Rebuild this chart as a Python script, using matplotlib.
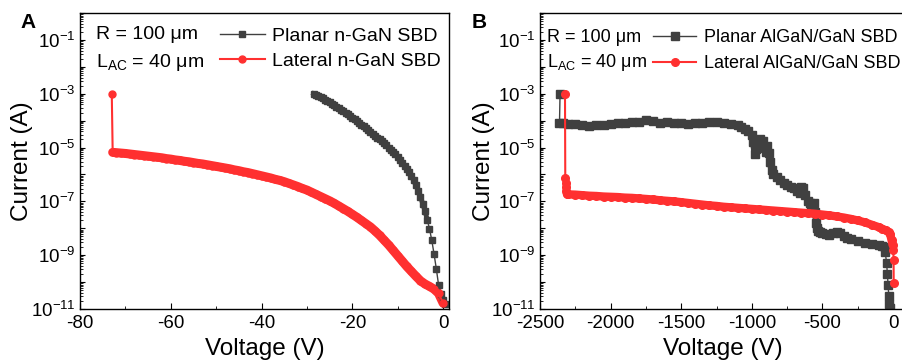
import matplotlib
matplotlib.use('Agg')
import matplotlib.pyplot as plt
import matplotlib.ticker as ticker
import numpy as np

plt.rcParams['font.family'] = ['Liberation Sans', 'DejaVu Sans']
plt.rcParams['mathtext.fontset'] = 'custom'
plt.rcParams['mathtext.rm'] = 'Liberation Sans'
plt.rcParams['mathtext.it'] = 'Liberation Sans:italic'
plt.rcParams['axes.unicode_minus'] = False

GRAY = '#404040'
RED = '#ff3030'

# ---- panel A data (voltage in V, log10 of current in A) ----
planar_a_v = [-28.5, -28.0, -27.5, -27.0, -26.5, -26.0, -25.5, -25.0, -24.5, -24.0,
              -23.5, -23.0, -22.5, -22.0, -21.5, -21.0, -20.5, -20.0, -19.5, -19.0,
              -18.5, -18.0, -17.5, -17.0, -16.5, -16.0, -15.5, -15.0, -14.5, -14.0,
              -13.5, -13.0, -12.5, -12.0, -11.5, -11.0, -10.5, -10.0, -9.5, -9.0,
              -8.5, -8.0, -7.5, -7.0, -6.5, -6.0, -5.5, -5.0, -4.5, -4.0,
              -3.5, -3.0, -2.5, -2.0, -1.5, -1.0, -0.5, 0.0, 0.5]
planar_a_log = [-3.00, -3.04, -3.08, -3.12, -3.17, -3.22, -3.27, -3.32, -3.37, -3.43,
                -3.48, -3.54, -3.60, -3.65, -3.71, -3.77, -3.83, -3.89, -3.95, -4.02,
                -4.08, -4.15, -4.21, -4.28, -4.35, -4.42, -4.49, -4.56, -4.63, -4.70,
                -4.77, -4.84, -4.92, -5.00, -5.08, -5.16, -5.25, -5.34, -5.45, -5.56,
                -5.67, -5.79, -5.92, -6.06, -6.22, -6.40, -6.60, -6.82, -7.08, -7.35,
                -7.68, -8.02, -8.44, -8.95, -9.50, -10.10, -10.45, -10.65, -10.80]

lateral_a_v = [-73, -72.8, -72, -71, -70, -69, -68, -67, -66, -65,
               -64, -63, -62, -61, -60, -59, -58, -57, -56, -55,
               -54, -53, -52, -51, -50, -49, -48, -47, -46, -45,
               -44, -43, -42, -41, -40, -39, -38, -37, -36, -35,
               -34, -33, -32, -31, -30, -29, -28, -27, -26, -25,
               -24, -23, -22, -21, -20, -19, -18, -17, -16, -15,
               -14, -13, -12, -11, -10, -9, -8, -7, -6, -5,
               -4, -3, -2, -1, 0]
lateral_a_log = [-3.00, -5.18, -5.19, -5.205, -5.22, -5.24, -5.26, -5.28, -5.30, -5.32,
                 -5.34, -5.36, -5.38, -5.41, -5.43, -5.46, -5.48, -5.51, -5.53, -5.56,
                 -5.59, -5.61, -5.64, -5.67, -5.70, -5.73, -5.76, -5.79, -5.83, -5.86,
                 -5.90, -5.93, -5.97, -6.01, -6.05, -6.09, -6.13, -6.18, -6.22, -6.27,
                 -6.33, -6.39, -6.45, -6.52, -6.58, -6.66, -6.74, -6.82, -6.90, -6.98,
                 -7.07, -7.17, -7.27, -7.37, -7.48, -7.59, -7.71, -7.83, -7.95, -8.10,
                 -8.26, -8.44, -8.62, -8.82, -9.02, -9.22, -9.42, -9.60, -9.78, -9.95,
                 -10.07, -10.16, -10.26, -10.42, -10.78]

# ---- panel B data ----
planar_b_v = [-2358, -2362, -2340, -2300, -2250, -2200, -2150, -2100, -2050, -2000,
              -1950, -1900, -1850, -1800, -1750, -1700, -1650, -1600, -1550, -1500,
              -1450, -1400, -1350, -1300, -1250, -1200, -1150, -1100, -1075, -1050,
              -1025, -1000, -990, -980, -970, -960, -950, -940, -930, -920,
              -910, -900, -890, -880, -870, -860, -850, -825, -800, -775,
              -750, -725, -700, -680, -660, -650, -640, -620, -600, -590,
              -580, -570, -560, -550, -545, -540, -530, -520, -500, -475,
              -450, -425, -400, -375, -350, -325, -300, -250, -200, -150,
              -100, -75, -60, -55, -45, -40, -35, -30, -25, -22]
planar_b_log = [-3.0, -4.1, -4.1, -4.12, -4.14, -4.16, -4.2, -4.18, -4.15, -4.14,
                -4.1, -4.08, -4.06, -4.04, -3.99, -4.03, -4.07, -4.06, -4.09, -4.1,
                -4.13, -4.09, -4.08, -4.06, -4.05, -4.08, -4.12, -4.17, -4.22, -4.3,
                -4.38, -4.55, -4.8, -5.25, -5.05, -4.75, -4.85, -4.7, -4.9, -4.75,
                -5.0, -5.15, -4.95, -5.2, -5.55, -5.85, -6.0, -6.1, -6.2, -6.3,
                -6.38, -6.45, -6.52, -6.6, -6.7, -6.45, -6.5, -6.75, -7.0, -7.05,
                -7.15, -7.15, -7.05, -7.4, -7.8, -8.0, -8.1, -8.15, -8.18, -8.22,
                -8.24, -8.18, -8.12, -8.18, -8.3, -8.36, -8.4, -8.47, -8.53, -8.6,
                -8.64, -8.66, -8.7, -8.9, -9.3, -9.7, -10.1, -10.5, -10.8, -10.95]

lateral_b_v = [-2323, -2321, -2319, -2317, -2314, -2310, -2300, -2250, -2200, -2150,
               -2100, -2050, -2000, -1950, -1900, -1850, -1800, -1750, -1700, -1650,
               -1600, -1550, -1500, -1450, -1400, -1350, -1300, -1250, -1200, -1150,
               -1100, -1050, -1000, -950, -900, -850, -800, -750, -700, -650,
               -600, -550, -500, -450, -400, -350, -300, -250, -200, -150,
               -100, -75, -50, -30, -20, -10, -3, 2, 4, 5]
lateral_b_log = [-3.0, -6.15, -6.3, -6.45, -6.6, -6.72, -6.74, -6.75, -6.77, -6.79,
                 -6.8, -6.82, -6.83, -6.84, -6.86, -6.87, -6.89, -6.91, -6.93, -6.96,
                 -6.98, -7.0, -7.03, -7.06, -7.09, -7.12, -7.15, -7.17, -7.2, -7.22,
                 -7.24, -7.26, -7.28, -7.3, -7.32, -7.34, -7.36, -7.38, -7.4, -7.42,
                 -7.44, -7.46, -7.49, -7.52, -7.56, -7.6, -7.65, -7.71, -7.78, -7.87,
                 -7.96, -8.02, -8.08, -8.15, -8.22, -8.45, -8.62, -8.8, -9.17, -10.03]


def odd_decade(val, pos):
    e = int(round(np.log10(val)))
    if e % 2 == 0:
        return ''
    return r'$\mathregular{10^{%d}}$' % e


def style_axis(ax, xmin, xmax, xmajor, xminor):
    ax.set_yscale('log')
    ax.set_ylim(1e-11, 1e0)
    ax.set_xlim(xmin, xmax)
    ax.yaxis.set_major_locator(ticker.LogLocator(base=10, subs=(1.0,), numticks=20))
    ax.yaxis.set_minor_locator(ticker.LogLocator(base=10, subs=np.arange(2, 10), numticks=20))
    ax.yaxis.set_major_formatter(ticker.FuncFormatter(odd_decade))
    ax.yaxis.set_minor_formatter(ticker.NullFormatter())
    ax.xaxis.set_major_locator(ticker.MultipleLocator(xmajor))
    ax.xaxis.set_minor_locator(ticker.MultipleLocator(xminor))
    ax.tick_params(which='both', direction='in', top=False, right=False, labelsize=13.5)
    ax.tick_params(axis='x', which='major', length=4.5, pad=4.5)
    ax.tick_params(axis='x', which='minor', length=2.5)
    ax.tick_params(axis='y', which='major', length=3.5, pad=3)
    ax.tick_params(axis='y', which='minor', length=2)
    for s in ax.spines.values():
        s.set_linewidth(1.0)
    ax.set_xlabel('Voltage (V)', fontsize=17.5, labelpad=4)
    ax.set_ylabel('Current (A)', fontsize=17.5)


fig = plt.figure(figsize=(9.03, 3.63), dpi=100)
axA = fig.add_axes([80/903, 1-309/363, 369/903, 296/363])
axB = fig.add_axes([540/903, 1-309/363, 366/903, 296/363])

# panel A
pa_i = 10.0 ** np.array(planar_a_log)
la_i = 10.0 ** np.array(lateral_a_log)
axA.plot(lateral_a_v[1:], la_i[1:], '-', color=RED, lw=6.5, solid_capstyle='round')
axA.plot(planar_a_v[:-8], pa_i[:-8], '-', color=GRAY, lw=3.5)
axA.plot(planar_a_v, pa_i, '-s', color=GRAY, lw=1, ms=4.5, label='Planar n-GaN SBD')
axA.plot(lateral_a_v, la_i, '-o', color=RED, lw=1.5, ms=5, label='Lateral n-GaN SBD')
style_axis(axA, -80, 1.3, 20, 10)
axA.yaxis.set_label_coords(-0.128, 0.5)
axA.text(0.043, 0.9105, 'R = 100 μm', transform=axA.transAxes, fontsize=14, va='baseline')
axA.text(0.043, 0.8186, r'L$_{\mathregular{AC}}$ = 40 μm', transform=axA.transAxes,
         fontsize=14, va='baseline')
axA.legend(loc='upper left', bbox_to_anchor=(0.379, 0.952), frameon=False, fontsize=14,
           handlelength=2.3, handletextpad=0.4, labelspacing=0.38, borderpad=0,
           borderaxespad=0)

# panel B
pb_i = 10.0 ** np.array(planar_b_log)
lb_i = 10.0 ** np.array(lateral_b_log)
axB.plot(planar_b_v[1:-7], pb_i[1:-7], '-', color=GRAY, lw=4.5)
axB.plot(planar_b_v, pb_i, '-s', color=GRAY, lw=1, ms=5.5, label='Planar AlGaN/GaN SBD')
axB.plot(lateral_b_v[5:-3], lb_i[5:-3], '-', color=RED, lw=6, solid_capstyle='round')
axB.plot(lateral_b_v, lb_i, '-o', color=RED, lw=1.5, ms=5.5, label='Lateral AlGaN/GaN SBD')
style_axis(axB, -2500, 92, 500, 250)
axB.yaxis.set_label_coords(-0.123, 0.5)
axB.text(0.019, 0.903, 'R = 100 μm', transform=axB.transAxes, fontsize=13, va='baseline')
axB.text(0.019, 0.819, r'L$_{\mathregular{AC}}$ = 40 μm', transform=axB.transAxes,
         fontsize=13, va='baseline')
axB.legend(loc='upper left', bbox_to_anchor=(0.309, 0.945), frameon=False, fontsize=13,
           handlelength=2.4, handletextpad=0.4, labelspacing=0.48, borderpad=0,
           borderaxespad=0)

fig.text(28/903, 1-23/363, 'A', fontsize=15, fontweight='bold', ha='center', va='center')
fig.text(479/903, 1-23/363, 'B', fontsize=15, fontweight='bold', ha='center', va='center')

fig.savefig('out.png', dpi=100)
